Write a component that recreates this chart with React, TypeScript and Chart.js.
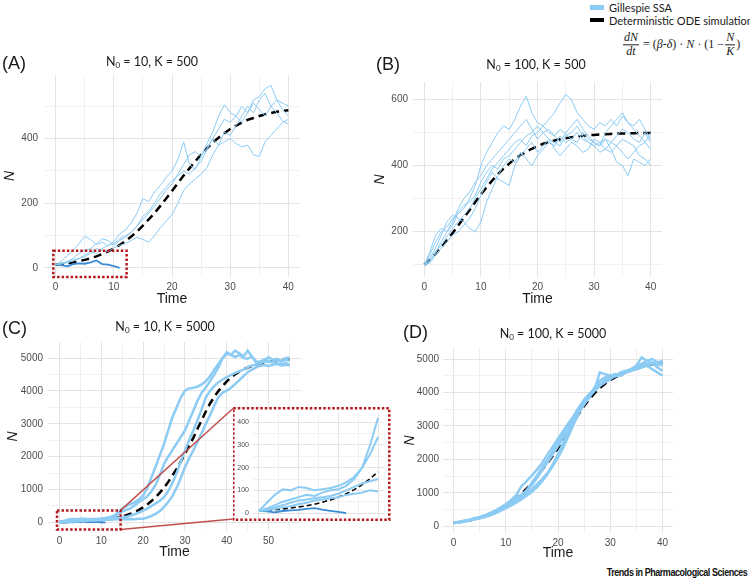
import React, { useEffect, useRef } from "react";
import { Chart, registerables } from "chart.js";

Chart.register(...registerables);

// ---------------- data ----------------
const T41 = [0, 1, 2, 3, 4, 5, 6, 7, 8, 9, 10, 11, 12, 13, 14, 15, 16, 17, 18, 19, 20, 21, 22, 23, 24, 25, 26, 27, 28, 29, 30, 31, 32, 33, 34, 35, 36, 37, 38, 39, 40];
const T56 = [0, 1, 2, 3, 4, 5, 6, 7, 8, 9, 10, 11, 12, 13, 14, 15, 16, 17, 18, 19, 20, 21, 22, 23, 24, 25, 26, 27, 28, 29, 30, 31, 32, 33, 34, 35, 36, 37, 38, 39, 40, 41, 42, 43, 44, 45, 46, 47, 48, 49, 50, 51, 52, 53, 54, 55];
const T_EXT = [0, 1, 2, 3, 4, 5, 6, 7, 8, 9, 10, 11];

// Panel A: N0 = 10, K = 500
const A_SSA1 = [10, 22, 38, 55, 75, 98, 88, 72, 80, 68, 82, 105, 118, 140, 170, 215, 205, 235, 255, 280, 300, 335, 390, 320, 305, 345, 385, 420, 470, 505, 480, 470, 450, 480, 510, 490, 470, 500, 480, 455, 445];
const A_SSA2 = [10, 14, 20, 30, 45, 55, 60, 75, 90, 85, 70, 85, 95, 110, 130, 160, 175, 200, 230, 250, 270, 285, 300, 290, 310, 330, 365, 400, 380, 420, 410, 440, 470, 500, 480, 520, 540, 500, 520, 490, 470];
const A_SSA3 = [10, 15, 18, 25, 30, 35, 45, 60, 55, 50, 62, 70, 75, 85, 95, 88, 80, 100, 125, 145, 165, 200, 240, 260, 275, 290, 310, 350, 380, 390, 400, 385, 375, 380, 350, 345, 390, 410, 430, 450, 460];
const A_SSA4 = [10, 12, 16, 22, 28, 40, 50, 45, 60, 70, 75, 90, 100, 110, 130, 150, 170, 190, 215, 240, 260, 290, 320, 350, 360, 345, 370, 400, 430, 460, 450, 470, 500, 480, 520, 530, 555, 565, 520, 510, 500];
const A_EXTINCT = [10, 9, 5, 12, 14, 13, 17, 23, 12, 10, 6, 0];
const A_ODE = [10, 12, 15, 17, 21, 25, 30, 36, 43, 51, 60, 71, 83, 97, 113, 131, 150, 170, 192, 215, 238, 262, 286, 308, 330, 351, 370, 388, 403, 417, 430, 440, 450, 458, 464, 470, 475, 479, 483, 486, 488];

// Panel B: N0 = 100, K = 500
const B_SSA1 = [100, 130, 170, 200, 215, 240, 255, 270, 300, 340, 400, 440, 470, 500, 520, 510, 540, 580, 610, 560, 530, 520, 500, 490, 510, 495, 480, 470, 500, 480, 470, 460, 480, 470, 490, 510, 500, 480, 470, 500, 470];
const B_SSA2 = [100, 110, 140, 160, 185, 210, 230, 250, 270, 300, 330, 360, 390, 410, 430, 450, 470, 480, 460, 490, 500, 520, 540, 560, 590, 615, 600, 560, 540, 520, 510, 530, 520, 540, 520, 550, 530, 520, 540, 510, 480];
const B_SSA3 = [100, 105, 130, 150, 170, 190, 200, 220, 240, 270, 310, 350, 380, 360, 350, 340, 400, 430, 450, 470, 440, 460, 480, 470, 460, 490, 500, 520, 490, 470, 460, 440, 450, 470, 460, 440, 420, 440, 460, 470, 500];
const B_SSA4 = [100, 120, 150, 190, 230, 250, 240, 230, 210, 200, 230, 290, 330, 370, 400, 420, 410, 440, 420, 400, 430, 450, 470, 460, 490, 470, 480, 500, 480, 470, 460, 470, 480, 450, 410, 400, 370, 420, 410, 400, 420];
const B_SSA5 = [100, 140, 190, 210, 200, 230, 270, 300, 320, 350, 370, 400, 420, 440, 460, 480, 500, 520, 540, 510, 480, 500, 510, 490, 470, 500, 520, 540, 510, 490, 470, 460, 500, 520, 540, 560, 530, 510, 490, 470, 450];
const B_SSA6 = [100, 115, 135, 170, 200, 220, 260, 280, 290, 310, 350, 380, 400, 390, 420, 430, 450, 470, 490, 500, 520, 500, 480, 450, 430, 450, 470, 460, 440, 450, 480, 470, 450, 440, 460, 480, 470, 460, 430, 420, 400];
const B_ODE = [100, 116, 134, 153, 174, 196, 219, 243, 266, 290, 313, 334, 355, 374, 391, 406, 420, 432, 442, 451, 459, 466, 471, 476, 480, 483, 486, 488, 490, 492, 493, 494, 495, 496, 497, 497, 498, 498, 499, 499, 499];

// Panel C: N0 = 10, K = 5000
const C_SSA1 = [10, 45, 80, 105, 100, 115, 110, 100, 105, 110, 120, 135, 160, 200, 300, 420, 500, 560, 620, 700, 820, 1050, 1380, 1700, 2050, 2390, 2800, 3200, 3500, 3800, 4010, 4080, 4100, 4130, 4200, 4300, 4450, 4650, 4820, 5000, 5130, 5100, 5230, 5150, 5050, 5230, 5050, 4870, 4900, 4950, 4920, 4880, 4950, 4900, 4950, 4920];
const C_SSA2 = [10, 20, 35, 50, 60, 70, 80, 75, 90, 100, 105, 120, 150, 200, 260, 335, 380, 430, 520, 620, 700, 800, 950, 1150, 1450, 1780, 2000, 2200, 2400, 2600, 2800, 3100, 3400, 3700, 3950, 4110, 4300, 4500, 4720, 5000, 5180, 5100, 5030, 5100, 5000, 4980, 5050, 4900, 4870, 4950, 5030, 4950, 4980, 4900, 5000, 5020];
const C_SSA3 = [10, 15, 25, 35, 45, 55, 60, 65, 70, 75, 85, 100, 115, 130, 140, 150, 170, 210, 250, 300, 360, 420, 500, 580, 660, 770, 950, 1200, 1500, 1850, 2190, 2500, 2800, 3100, 3450, 3810, 4000, 4150, 4270, 4350, 4420, 4480, 4550, 4600, 4650, 4720, 4780, 4800, 4850, 4880, 4900, 4870, 4850, 4800, 4850, 4800];
const C_SSA4 = [10, 12, 18, 25, 30, 40, 45, 55, 60, 65, 70, 80, 85, 90, 100, 95, 100, 105, 100, 110, 115, 150, 200, 260, 350, 470, 620, 800, 1050, 1350, 1680, 1950, 2190, 2450, 2720, 3000, 3270, 3550, 3810, 3950, 4010, 4100, 4210, 4330, 4450, 4570, 4650, 4720, 4770, 4790, 4760, 4800, 4820, 4780, 4800, 4790];
const C_EXTINCT = [10, 7, 3, 9, 12, 14, 18, 22, 15, 10, 5, 0];
const C_ODE = [10, 12, 15, 18, 22, 27, 32, 39, 48, 58, 70, 85, 103, 125, 151, 182, 220, 266, 319, 382, 460, 548, 650, 770, 906, 1059, 1234, 1425, 1629, 1852, 2083, 2328, 2573, 2850, 3110, 3380, 3620, 3820, 4000, 4150, 4290, 4410, 4510, 4590, 4660, 4710, 4760, 4800, 4835, 4865, 4890, 4910, 4925, 4938, 4948, 4958];
const INSET_END = 15; // the inset shows the start of panel C (time 0..15)

// Panel D: N0 = 100, K = 5000
const D_SSA1 = [100, 130, 160, 190, 230, 270, 320, 380, 450, 520, 620, 740, 850, 940, 1060, 1230, 1450, 1680, 1920, 2150, 2400, 2650, 2880, 3150, 3420, 3650, 3850, 4100, 4600, 4550, 4500, 4480, 4550, 4600, 4650, 4800, 5050, 4950, 4850, 4900, 4800];
const D_SSA2 = [100, 120, 150, 180, 220, 260, 300, 340, 400, 480, 580, 670, 790, 920, 1080, 1300, 1530, 1770, 2000, 2250, 2500, 2760, 3020, 3280, 3530, 3760, 3960, 4100, 4250, 4350, 4450, 4550, 4500, 4600, 4700, 4750, 4800, 4850, 4900, 4750, 4650];
const D_SSA3 = [100, 110, 140, 170, 200, 240, 280, 330, 390, 460, 540, 620, 710, 800, 910, 1030, 1170, 1350, 1560, 1800, 2050, 2350, 2700, 3050, 3380, 3650, 3900, 4150, 4350, 4450, 4500, 4550, 4520, 4600, 4700, 4800, 4850, 4950, 5000, 4900, 4950];
const D_SSA4 = [100, 140, 170, 200, 240, 280, 330, 400, 470, 560, 660, 780, 930, 1200, 1350, 1520, 1700, 1900, 2150, 2380, 2620, 2850, 3080, 3300, 3560, 3780, 3950, 4080, 4200, 4300, 4400, 4500, 4600, 4650, 4700, 4750, 4850, 4800, 4700, 4600, 4500];
const D_SSA5 = [100, 115, 145, 175, 210, 250, 290, 350, 420, 490, 570, 650, 750, 860, 980, 1110, 1260, 1420, 1600, 1850, 2150, 2480, 2830, 3180, 3450, 3700, 3880, 4050, 4200, 4400, 4480, 4520, 4550, 4600, 4650, 4700, 4750, 4800, 4850, 4800, 4900];
const D_ODE = [100, 120, 145, 174, 209, 250, 300, 359, 426, 507, 599, 706, 833, 971, 1130, 1290, 1480, 1690, 1900, 2110, 2330, 2600, 2870, 3130, 3370, 3600, 3800, 3980, 4130, 4260, 4370, 4460, 4540, 4610, 4660, 4710, 4760, 4800, 4840, 4870, 4890];

// zoom boxes (data coordinates: x0, x1, y0, y1)
const A_BOX = [-0.4, 12.2, -28, 53];
const C_BOX = [-0.6, 14.6, -213, 365];

// text
const LEGEND_SSA = "Gillespie SSA";
const LEGEND_ODE = "Deterministic ODE simulation";
const X_TITLE = "Time";
const Y_TITLE = "N";
const SOURCE = "Trends in Pharmacological Sciences";

// ---------------- styles ----------------
const LIGHT = "#8ccbf3";
const DARK = "#3a8bd6";
const RED = "#b3191f";
const LINK = "#c0504d";
const GRID_MAJOR = "#e4e4e4";
const GRID_MINOR = "#f1f1f1";
const TICK = "#4d4d4d";
const SANS = "'Liberation Sans', Arial, sans-serif";
const LABEL_FONT = "Lato, 'Liberation Sans', sans-serif";

Chart.defaults.font.family = SANS;

type Series = { t: number[]; v: number[]; kind: "ssa" | "ext" | "ode" };

const ssa = (t: number[], v: number[]): Series => ({ t, v, kind: "ssa" });
const ext = (t: number[], v: number[]): Series => ({ t, v, kind: "ext" });
const ode = (t: number[], v: number[]): Series => ({ t, v, kind: "ode" });
const head = (a: number[], n: number) => a.slice(0, n + 1);

const INSET_RECT = { left: 233, top: 404, width: 159, height: 122 };
const INSET_PAD = { top: 9, right: 8, bottom: 8, left: 0 };
const INSET_FRAME = { l: -19.7, t: -4.7, r: 5.3, b: 2 };
const C_RECT = { left: 5, top: 328, width: 300, height: 233 };

const PANELS: any[] = [
  {
    key: "A",
    rect: { left: 2, top: 61, width: 302, height: 247 },
    pad: { top: 14, right: 4, bottom: 0, left: 0 },
    yW: 42, xH: 31,
    x: { min: -2, max: 42, step: 5, major: 10, labels: true },
    y: { min: -28, max: 597, step: 100, major: 200 },
    tickSize: 10, tickPad: { x: 4, y: 6 }, titles: true,
    widths: { ssa: 1, ext: 1.8, ode: 2.5 }, dash: [8, 5],
    series: [ssa(T41, A_SSA1), ssa(T41, A_SSA2), ssa(T41, A_SSA3), ssa(T41, A_SSA4), ext(T_EXT, A_EXTINCT), ode(T41, A_ODE)],
    overlay: { box: A_BOX },
  },
  {
    key: "B",
    rect: { left: 372, top: 68, width: 294, height: 240 },
    pad: { top: 14, right: 4, bottom: 0, left: 0 },
    yW: 41, xH: 31,
    x: { min: -2, max: 42, step: 5, major: 10, labels: true },
    y: { min: 63, max: 653, step: 100, major: 200 },
    tickSize: 10, tickPad: { x: 4, y: 5 }, titles: true,
    widths: { ssa: 1, ext: 1.8, ode: 2.5 }, dash: [8, 5],
    series: [ssa(T41, B_SSA1), ssa(T41, B_SSA2), ssa(T41, B_SSA3), ssa(T41, B_SSA4), ssa(T41, B_SSA5), ssa(T41, B_SSA6), ode(T41, B_ODE)],
    overlay: {},
  },
  {
    key: "C",
    rect: C_RECT,
    pad: { top: 14, right: 4, bottom: 0, left: 0 },
    yW: 43, xH: 30,
    x: { min: -2.75, max: 57.75, step: 5, major: 10, labels: true },
    y: { min: -261, max: 5491, step: 500, major: 1000 },
    tickSize: 10, tickPad: { x: 4, y: 5 }, titles: true,
    widths: { ssa: 2.5, ext: 2, ode: 2.5 }, dash: [8, 5],
    series: [ssa(T56, C_SSA1), ssa(T56, C_SSA2), ssa(T56, C_SSA3), ssa(T56, C_SSA4), ext(T_EXT, C_EXTINCT), ode(T56, C_ODE)],
    overlay: {
      box: C_BOX,
      links: [
        { corner: "top", px: INSET_RECT.left + INSET_PAD.left + 20 + INSET_FRAME.l - C_RECT.left, py: INSET_RECT.top + INSET_PAD.top + INSET_FRAME.t - C_RECT.top },
        { corner: "bottom", px: INSET_RECT.left + INSET_PAD.left + 20 + INSET_FRAME.l - C_RECT.left, py: INSET_RECT.top + INSET_RECT.height - INSET_PAD.bottom + INSET_FRAME.b - 1 - C_RECT.top },
      ],
    },
  },
  {
    key: "D",
    rect: { left: 402, top: 334, width: 275, height: 228 },
    pad: { top: 14, right: 4, bottom: 0, left: 0 },
    yW: 41, xH: 29,
    x: { min: -2, max: 42, step: 5, major: 10, labels: true },
    y: { min: -200, max: 5330, step: 500, major: 1000 },
    tickSize: 10, tickPad: { x: 4, y: 4 }, titles: true,
    widths: { ssa: 2.5, ext: 2, ode: 2.5 }, dash: [8, 5],
    series: [ssa(T41, D_SSA1), ssa(T41, D_SSA2), ssa(T41, D_SSA3), ssa(T41, D_SSA4), ssa(T41, D_SSA5), ode(T41, D_ODE)],
    overlay: {},
  },
  {
    key: "inset",
    rect: INSET_RECT,
    pad: INSET_PAD,
    yW: 20, xH: 0,
    x: { min: -0.75, max: 15.75, step: 2.5, major: 5, labels: false },
    y: { min: -21, max: 441, step: 50, major: 100 },
    tickSize: 7, tickPad: { x: 2, y: 4 }, titles: false,
    widths: { ssa: 2, ext: 1.8, ode: 1.6 }, dash: [5, 3],
    series: [
      ssa(head(T56, INSET_END), head(C_SSA1, INSET_END)),
      ssa(head(T56, INSET_END), head(C_SSA2, INSET_END)),
      ssa(head(T56, INSET_END), head(C_SSA3, INSET_END)),
      ssa(head(T56, INSET_END), head(C_SSA4, INSET_END)),
      ext(T_EXT, C_EXTINCT),
      ode(head(T56, INSET_END), head(C_ODE, INSET_END)),
    ],
    overlay: { frame: INSET_FRAME },
  },
];

const isMajor = (v: number, m: number) => Math.abs(v / m - Math.round(v / m)) < 1e-6;

// grid/tick positions at every multiple of `step` inside [min, max]
const tickBuilder = (min: number, max: number, step: number) => (sc: any) => {
  const out: any[] = [];
  for (let k = Math.ceil(min / step - 1e-9); k * step <= max + 1e-9; k++) {
    out.push({ value: Math.round(k * step * 1000) / 1000 });
  }
  sc.ticks = out;
};

function dottedRect(ctx: CanvasRenderingContext2D, l: number, t: number, r: number, b: number) {
  ctx.save();
  ctx.strokeStyle = RED;
  ctx.lineWidth = 2.5;
  ctx.setLineDash([2.5, 2]);
  ctx.strokeRect(l, t, r - l, b - t);
  ctx.restore();
}

const overlayPlugin = {
  id: "overlay",
  beforeDraw(chart: any, _args: any, o: any) {
    if (o && o.frame) {
      const ca = chart.chartArea;
      const f = o.frame;
      const ctx = chart.ctx;
      ctx.save();
      ctx.fillStyle = "#ffffff";
      ctx.fillRect(ca.left + f.l, ca.top + f.t, ca.right + f.r - (ca.left + f.l), ca.bottom + f.b - (ca.top + f.t));
      ctx.restore();
    }
  },
  afterDraw(chart: any, _args: any, o: any) {
    if (!o) return;
    const ctx = chart.ctx;
    if (o.box) {
      const [x0, x1, y0, y1] = o.box;
      const sx = chart.scales.x;
      const sy = chart.scales.y;
      const l = sx.getPixelForValue(x0);
      const r = sx.getPixelForValue(x1);
      const t = sy.getPixelForValue(y1);
      const b = sy.getPixelForValue(y0);
      if (o.links) {
        ctx.save();
        ctx.strokeStyle = LINK;
        ctx.lineWidth = 1.5;
        for (const ln of o.links) {
          ctx.beginPath();
          ctx.moveTo(r, ln.corner === "top" ? t : b);
          ctx.lineTo(ln.px, ln.py);
          ctx.stroke();
        }
        ctx.restore();
      }
      dottedRect(ctx, l, t, r, b);
    }
    if (o.frame) {
      const ca = chart.chartArea;
      const f = o.frame;
      dottedRect(ctx, ca.left + f.l, ca.top + f.t, ca.right + f.r, ca.bottom + f.b);
    }
  },
};

function createChart(canvas: HTMLCanvasElement, s: any) {
  const datasets = s.series.map((sr: Series) => ({
    data: sr.v.map((y, i) => ({ x: sr.t[i], y })),
    borderColor: sr.kind === "ode" ? "#000000" : sr.kind === "ext" ? DARK : LIGHT,
    borderWidth: s.widths[sr.kind],
    borderDash: sr.kind === "ode" ? s.dash : [],
    pointRadius: 0,
    fill: false,
    tension: 0,
  }));
  const grid = (m: number) => ({
    color: (c: any) => (c.tick && isMajor(c.tick.value, m) ? GRID_MAJOR : GRID_MINOR),
    lineWidth: 1,
    drawTicks: false,
  });
  return new Chart(canvas, {
    type: "line",
    data: { datasets },
    options: {
      animation: false,
      responsive: false,
      maintainAspectRatio: false,
      devicePixelRatio: 1,
      events: [],
      layout: { padding: s.pad },
      plugins: {
        legend: { display: false },
        tooltip: { enabled: false },
        overlay: s.overlay,
      },
      scales: {
        x: {
          type: "linear",
          min: s.x.min,
          max: s.x.max,
          afterBuildTicks: tickBuilder(s.x.min, s.x.max, s.x.step),
          afterFit: (sc: any) => {
            sc.height = s.xH;
          },
          border: { display: false },
          grid: grid(s.x.major),
          ticks: {
            autoSkip: false,
            maxRotation: 0,
            display: s.x.labels,
            padding: s.tickPad.x,
            color: TICK,
            font: { size: s.tickSize },
            callback: (v: any) => (isMajor(Number(v), s.x.major) ? String(v) : ""),
          },
          title: { display: s.titles, text: X_TITLE, color: "#1a1a1a", font: { size: 14 }, padding: 0 },
        },
        y: {
          type: "linear",
          min: s.y.min,
          max: s.y.max,
          afterBuildTicks: tickBuilder(s.y.min, s.y.max, s.y.step),
          afterFit: (sc: any) => {
            sc.width = s.yW;
          },
          border: { display: false },
          grid: grid(s.y.major),
          ticks: {
            autoSkip: false,
            padding: s.tickPad.y,
            color: TICK,
            font: { size: s.tickSize },
            callback: (v: any) => (isMajor(Number(v), s.y.major) ? String(v) : ""),
          },
          title: { display: s.titles, text: Y_TITLE, color: "#1a1a1a", font: { size: 14, style: "italic" }, padding: 0 },
        },
      },
    },
    plugins: [overlayPlugin],
  } as any);
}

function Panel({ spec }: { spec: any }) {
  const ref = useRef<HTMLCanvasElement>(null);
  useEffect(() => {
    if (!ref.current) return;
    const ch = createChart(ref.current, spec);
    return () => ch.destroy();
  }, [spec]);
  const r = spec.rect;
  return (
    <canvas
      ref={ref}
      width={r.width}
      height={r.height}
      style={{ position: "absolute", left: r.left, top: r.top, width: r.width, height: r.height }}
    />
  );
}

function Label({ x, y, children, size, family, align = "left", style = {} }: any) {
  const tx = align === "center" ? "-50%" : align === "right" ? "-100%" : "0";
  return (
    <div
      style={{
        position: "absolute",
        left: x,
        top: y,
        transform: `translate(${tx}, -50%)`,
        fontSize: size,
        fontFamily: family,
        lineHeight: 1,
        whiteSpace: "nowrap",
        color: "#1a1a1a",
        ...style,
      }}
    >
      {children}
    </div>
  );
}

function Title({ x, y, n0, k }: any) {
  return (
    <Label x={x} y={y} size={12.5} family={LABEL_FONT} align="center">
      N<sub style={{ fontSize: 8, verticalAlign: "-2px", lineHeight: 0 }}>0</sub> = {n0}, K = {k}
    </Label>
  );
}

function Frac({ num, den }: any) {
  return (
    <span style={{ display: "inline-flex", flexDirection: "column", alignItems: "center", margin: "0 1px", verticalAlign: "middle" }}>
      <span style={{ fontStyle: "italic", lineHeight: 1.1, padding: "0 1px" }}>{num}</span>
      <span style={{ borderTop: "1px solid #222", width: "100%" }} />
      <span style={{ fontStyle: "italic", lineHeight: 1.1, padding: "0 1px" }}>{den}</span>
    </span>
  );
}

export default function App() {
  return (
    <div style={{ position: "absolute", left: 0, top: 0, width: 750, height: 579, background: "#fff", overflow: "hidden" }}>
      {PANELS.map((p) => (
        <Panel key={p.key} spec={p} />
      ))}

      <Label x={2} y={63} size={18} family={SANS}>(A)</Label>
      <Label x={376} y={64} size={18} family={SANS}>(B)</Label>
      <Label x={2} y={328} size={18} family={SANS}>(C)</Label>
      <Label x={403} y={332} size={18} family={SANS}>(D)</Label>

      <Title x={152} y={62} n0={10} k={500} />
      <Title x={536} y={65} n0={100} k={500} />
      <Title x={165} y={327} n0={10} k={5000} />
      <Title x={553} y={334} n0={100} k={5000} />

      {/* legend */}
      <div style={{ position: "absolute", left: 590, top: 5, width: 14, height: 5, background: LIGHT }} />
      <Label x={609} y={7} size={11} family={LABEL_FONT}>{LEGEND_SSA}</Label>
      <div style={{ position: "absolute", left: 590, top: 18, width: 14, height: 4, background: "#000" }} />
      <Label x={609} y={20} size={11} family={LABEL_FONT}>{LEGEND_ODE}</Label>

      {/* model equation */}
      <div
        style={{
          position: "absolute",
          left: 622,
          top: 45,
          transform: "translateY(-50%)",
          display: "flex",
          alignItems: "center",
          fontFamily: "'Liberation Serif', 'DejaVu Serif', serif",
          fontSize: 12,
          whiteSpace: "nowrap",
          color: "#1a1a1a",
        }}
      >
        <Frac num="dN" den="dt" />
        <span style={{ margin: "0 3px" }}>=</span>
        <span>
          (<i>β</i>-<i>δ</i>) · <i>N</i> · (1 −
        </span>
        <Frac num="N" den="K" />
        <span>)</span>
      </div>

      <div
        style={{
          position: "absolute",
          right: 3,
          top: 573,
          transform: "translateY(-50%) scaleX(0.9)",
          transformOrigin: "right center",
          fontSize: 10,
          fontFamily: SANS,
          fontWeight: 700,
          letterSpacing: "-0.5px",
          lineHeight: 1,
          whiteSpace: "nowrap",
          color: "#111",
        }}
      >
        {SOURCE}
      </div>
    </div>
  );
}
